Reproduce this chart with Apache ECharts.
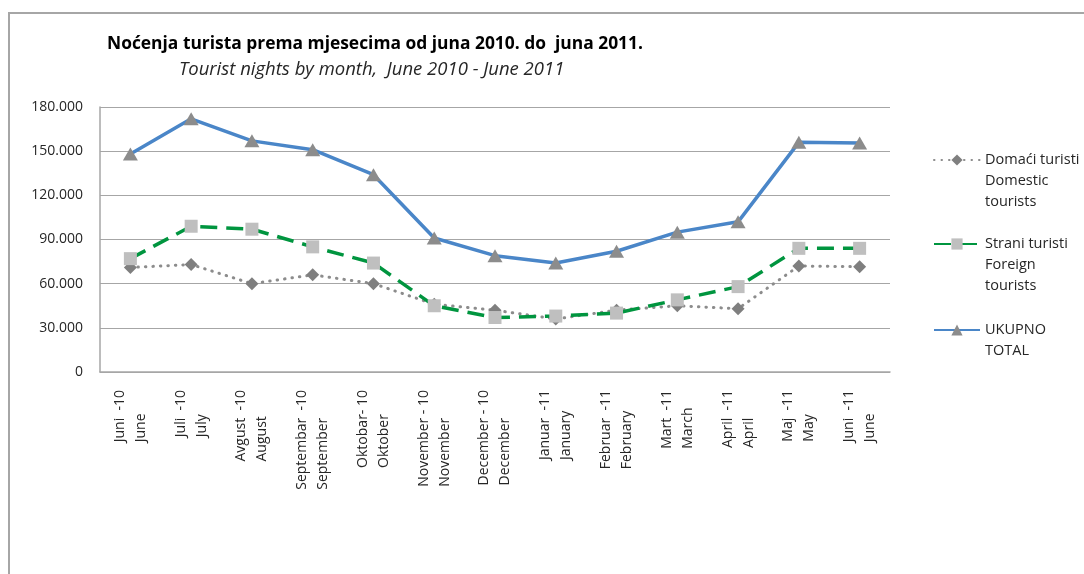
<!DOCTYPE html>
<html>
<head>
<meta charset="utf-8">
<script src="https://cdn.jsdelivr.net/npm/echarts@6/dist/echarts.min.js"></script>
<style>
  html, body { margin: 0; padding: 0; background: #fff; }
  #frame { position: absolute; left: 8px; top: 12px; right: -4px; bottom: -4px;
           border-top: 2px solid #a6a6a6; border-left: 2px solid #a6a6a6; }
  #chart { position: absolute; left: 0; top: 0; width: 1084px; height: 574px; }
</style>
</head>
<body>
<div id="frame"></div>
<div id="chart"></div>
<script>
  // mjeseci (dvojezicne oznake)
  const months = [
    'Juni  -10\nJune', 'Juli  -10\nJuly', 'Avgust  -10\nAugust',
    'Septembar  -10\nSeptember', 'Oktobar- 10\nOktober', 'November - 10\nNovember',
    'December - 10\nDecember', 'Januar  -11\nJanuary', 'Februar  -11\nFebruary',
    'Mart  -11\nMarch', 'April  -11\nApril', 'Maj  -11\nMay', 'Juni  -11\nJune'
  ]
  const domaci = [71000, 73000, 60000, 66000, 60000, 46000, 42000, 36000, 42000, 45000, 43000, 72000, 71500]
  const strani = [77000, 99000, 97000, 85000, 74000, 45000, 37000, 38000, 40000, 49000, 58000, 84000, 84000]
  const ukupno = [148000, 172000, 157000, 151000, 134000, 91000, 79000, 74000, 82000, 95000, 102000, 156000, 155500]
  const seriesNames = ['Domaći turisti', 'Strani turisti', 'UKUPNO']
  const legendNames = {
    'Domaći turisti': 'Domaći turisti\nDomestic\ntourists',
    'Strani turisti': 'Strani turisti\nForeign\ntourists',
    'UKUPNO': 'UKUPNO\nTOTAL'
  }

  const FONT = '"Open Sans", sans-serif'
  const TXT = '#262626'

  const chart = echarts.init(document.getElementById('chart'))

  // legenda: ikona poravnata s prvim redom teksta (prazni redovi iznad)
  const LH = 21
  function legendFor(name, iconY) {
    const n = legendNames[name].split('\n').length
    const blockH = (2 * n - 1) * LH
    return {
      data: [name],
      orient: 'vertical',
      left: 933,
      top: iconY - blockH / 2,
      padding: 0,
      itemWidth: 46,
      itemHeight: 14,
      selectedMode: false,
      formatter: (nm) => '\n'.repeat(n - 1) + legendNames[nm],
      textStyle: { fontFamily: FONT, fontSize: 14.5, lineHeight: LH, color: TXT }
    }
  }

  const option = {
    backgroundColor: 'transparent',
    animation: false,
    title: [
      {
        text: 'Noćenja turista prema mjesecima od juna 2010. do  juna 2011.',
        left: 107, top: 36, padding: 0,
        textStyle: { fontFamily: FONT, fontSize: 17.4, fontWeight: 'bold', color: '#000' }
      },
      {
        text: 'Tourist nights by month,  June 2010 - June 2011',
        left: 179, top: 60, padding: 0,
        textStyle: { fontFamily: FONT, fontSize: 18.5, fontStyle: 'italic', fontWeight: 'normal', color: TXT }
      }
    ],
    legend: [
      legendFor('Domaći turisti', 160),
      legendFor('Strani turisti', 244),
      legendFor('UKUPNO', 330)
    ],
    grid: { left: 100, right: 194, top: 107, bottom: 202, containLabel: false },
    xAxis: {
      type: 'category',
      data: months,
      boundaryGap: true,
      axisLine: { lineStyle: { color: '#a6a6a6', width: 1.5 } },
      axisTick: { show: false },
      axisLabel: {
        interval: 0,
        rotate: 90,
        margin: 18,
        formatter: (v) => v.split('\n').map(s => '{a|' + s + '}').join('\n'),
        rich: { a: { align: 'left', fontFamily: FONT, fontSize: 14, lineHeight: 21, color: TXT } }
      }
    },
    yAxis: {
      type: 'value',
      min: 0, max: 180000, interval: 30000,
      axisLine: { show: true, lineStyle: { color: '#a6a6a6', width: 1.5 } },
      axisTick: { show: false },
      splitLine: { lineStyle: { color: '#a6a6a6', width: 1.2 } },
      axisLabel: {
        margin: 17,
        fontFamily: FONT, fontSize: 14, color: TXT,
        formatter: (v) => v === 0 ? '0' : (v / 1000) + '.000'
      }
    },
    series: [
      {
        name: seriesNames[0], type: 'line', data: domaci,
        symbol: 'diamond', symbolSize: 13,
        itemStyle: { color: '#7f7f7f' },
        lineStyle: { color: '#8c8c8c', width: 3, type: [0.5, 7], cap: 'round' }
      },
      {
        name: seriesNames[1], type: 'line', data: strani,
        symbol: 'rect', symbolSize: 13,
        itemStyle: { color: '#bfbfbf' },
        lineStyle: { color: '#00953f', width: 3.5, type: [17, 9] }
      },
      {
        name: seriesNames[2], type: 'line', data: ukupno,
        symbol: 'triangle', symbolSize: [15, 13],
        itemStyle: { color: '#8c8c8c' },
        lineStyle: { color: '#4a86c8', width: 3.5 }
      }
    ]
  }
  chart.setOption(option)
</script>
</body>
</html>
